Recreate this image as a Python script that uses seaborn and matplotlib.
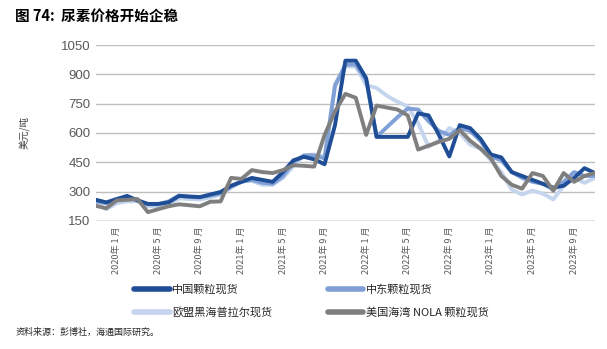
import matplotlib
matplotlib.use("Agg")
import matplotlib.pyplot as plt
import seaborn as sns
import pandas as pd
from matplotlib.lines import Line2D

# Monthly urea spot prices, Nov 2019 - Nov 2023 (USD/t)
months = pd.period_range("2019-11", "2023-11", freq="M")

china_granular = [258, 245, 262, 278, 255, 237, 237, 245, 278, 275, 272, 285,
                  298, 330, 350, 370, 360, 350, 400, 460, 478, 465, 440, 640,
                  970, 970, 880, 580, 580, 580, 580, 700, 690, 590, 480, 640,
                  625, 570, 490, 475, 400, 380, 360, 340, 320, 330, 370, 420, 395]

middle_east_granular = [250, 240, 258, 270, 255, 235, 235, 250, 280, 272, 270, 280,
                        290, 325, 350, 360, 345, 340, 380, 450, 485, 485, 470, 840,
                        950, 950, 870, 580, 630, 680, 725, 720, 660, 610, 590, 625,
                        610, 560, 480, 460, 400, 370, 350, 340, 310, 350, 400, 380, 380]

eu_black_sea_prilled = [235, 210, 240, 250, 250, 225, 225, 235, 265, 262, 260, 270,
                        285, 320, 355, 355, 335, 335, 370, 430, 485, 490, 480, 850,
                        940, 940, 845, 830, 790, 760, 735, 650, 530, 560, 625, 600,
                        540, 520, 460, 400, 310, 285, 305, 290, 260, 330, 370, 345, 370]

us_gulf_nola_granular = [227, 215, 255, 258, 262, 195, 210, 225, 235, 230, 225, 248,
                         250, 370, 365, 410, 400, 395, 410, 435, 432, 428, 590, 710,
                         800, 780, 590, 740, 730, 720, 690, 515, 535, 555, 570, 615,
                         560, 520, 470, 380, 335, 315, 395, 380, 305, 395, 350, 380, 395]

series_names = ["中国颗粒现货", "中东颗粒现货", "欧盟黑海普拉尔现货", "美国海湾 NOLA 颗粒现货"]
series_values = [china_granular, middle_east_granular, eu_black_sea_prilled, us_gulf_nola_granular]
series_colors = ["#1F4E96", "#7F9FD6", "#C5D5EE", "#7F7F7F"]

y_ticks = [150, 300, 450, 600, 750, 900, 1050]
tick_months = list(range(2, len(months), 4))
tick_labels = [f"{months[i].year}年 {months[i].month} 月" for i in tick_months]

frames = []
for name, vals in zip(series_names, series_values):
    frames.append(pd.DataFrame({"idx": range(len(months)), "price": vals, "series": name}))
df = pd.concat(frames, ignore_index=True)

sns.set_theme(style="white")
plt.rcParams["font.family"] = ["Liberation Sans", "Noto Sans CJK SC", "DejaVu Sans"]
cjk = ["Noto Sans CJK SC", "DejaVu Sans"]

fig = plt.figure(figsize=(6.07, 3.49), dpi=100)
ax = fig.add_axes([0.158, 0.367, 0.822, 0.504])

# draw back-to-front: light blue, medium blue, dark blue, grey
draw_order = [2, 1, 0, 3]
for k in draw_order:
    sub = df[df["series"] == series_names[k]]
    sns.lineplot(data=sub, x="idx", y="price", ax=ax, color=series_colors[k],
                 linewidth=2.8, legend=False, zorder=3 + draw_order.index(k))

ax.set_xlim(0, len(months) - 1)
ax.set_ylim(150, 1050)
ax.set_yticks(y_ticks)
ax.set_yticklabels([str(v) for v in y_ticks], fontsize=9.5, color="#595959")
ax.set_xticks(tick_months)
ax.set_xticklabels(tick_labels, rotation=90, fontsize=6.5, color="#595959", family=cjk)
ax.tick_params(axis="both", length=0, pad=4)
ax.set_xlabel("")
ax.set_ylabel("美元/吨", fontsize=7, color="#404040", family=cjk, labelpad=22)

for v in y_ticks[1:]:
    ax.axhline(v, color="#BFBFBF", linewidth=1.0, zorder=1)
ax.axhline(150, color="#D9D9D9", linewidth=1.8, zorder=1)
for s in ax.spines.values():
    s.set_visible(False)

handles = [Line2D([0], [0], color=c, linewidth=4, solid_capstyle="round") for c in series_colors]
order = [0, 2, 1, 3]
fig.legend([handles[i] for i in order], [series_names[i] for i in order],
           loc="upper left", bbox_to_anchor=(0.205, 0.215), ncol=2, frameon=False,
           prop={"family": cjk, "size": 8}, handlelength=3.2, handletextpad=0.2,
           columnspacing=5.0, labelspacing=1.1, labelcolor="#262626")

fig.text(0.025, 0.955, "图 74:  尿素价格开始企稳", fontsize=10.5, fontweight="bold",
         family=cjk, color="#000000", va="center")
fig.text(0.025, 0.048, "资料来源：彭博社，海通国际研究。", fontsize=6.5, family=cjk,
         color="#262626", va="center")

fig.savefig("out.png", dpi=100)
